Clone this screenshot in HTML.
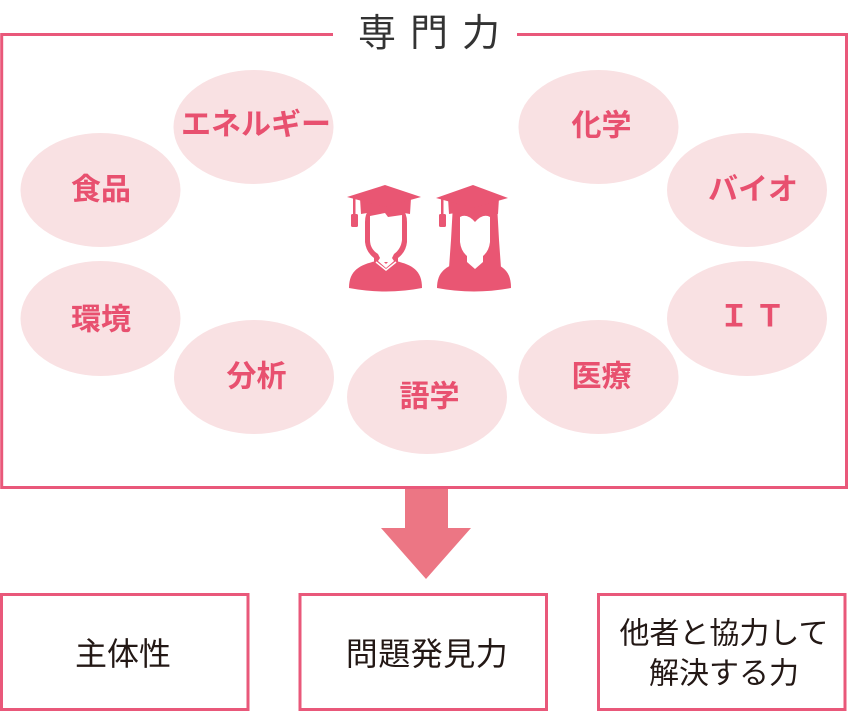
<!DOCTYPE html>
<html>
<head>
<meta charset="utf-8">
<style>
  html,body{margin:0;padding:0;background:#fff;}
  body{width:849px;height:713px;overflow:hidden;}
  svg{display:block;}
  text{font-family:"Liberation Sans","Noto Sans CJK JP",sans-serif;}
  .lbl{font-size:30px;font-weight:700;fill:#e8506f;}
  .bt{font-size:32px;font-weight:400;fill:#231815;}
  .bt3{font-size:30px;font-weight:400;fill:#231815;}
  .ttl{font-size:38px;font-weight:400;fill:#333;}
</style>
</head>
<body>
<svg width="849" height="713" viewBox="0 0 849 713" xmlns="http://www.w3.org/2000/svg">
  <!-- main frame -->
  <path d="M333,34.5 H1.7 V487.5 H846.5 V34.5 H517" fill="none" stroke="#e9587a" stroke-width="3"/>
  <text class="ttl" x="377" y="34" text-anchor="middle" dominant-baseline="central">専</text>
  <text class="ttl" x="429" y="34" text-anchor="middle" dominant-baseline="central">門</text>
  <text class="ttl" x="481" y="34" text-anchor="middle" dominant-baseline="central">力</text>

  <!-- ellipses -->
  <g fill="#f9e1e3">
    <ellipse cx="253.5" cy="127" rx="80" ry="57"/>
    <ellipse cx="598.5" cy="127" rx="80" ry="57"/>
    <ellipse cx="100.5" cy="190" rx="80" ry="57"/>
    <ellipse cx="747" cy="190" rx="80" ry="57"/>
    <ellipse cx="100.5" cy="318.5" rx="80" ry="57.5"/>
    <ellipse cx="747" cy="318.5" rx="80" ry="57.5"/>
    <ellipse cx="254" cy="377" rx="80" ry="57"/>
    <ellipse cx="598.5" cy="377" rx="80" ry="57"/>
    <ellipse cx="427" cy="397" rx="80" ry="57"/>
  </g>
  <g text-anchor="middle" dominant-baseline="central">
    <text class="lbl" x="256" y="125">エネルギー</text>
    <text class="lbl" x="601.5" y="126">化学</text>
    <text class="lbl" x="101" y="190">食品</text>
    <text class="lbl" x="753" y="190">バイオ</text>
    <text class="lbl" x="101" y="320">環境</text>
    <text class="lbl" x="734" y="317">Ｉ</text>
    <text class="lbl" x="770" y="317">Ｔ</text>
    <text class="lbl" x="256.5" y="377">分析</text>
    <text class="lbl" x="601.5" y="377">医療</text>
    <text class="lbl" x="429.5" y="397">語学</text>
  </g>

  <!-- male graduate icon -->
  <g fill="#e95673">
    <!-- body -->
    <path d="M349,288 C349,270 360,265 376,261 L396,261 C412,265 422,270 422,288 Q386,295 349,288 Z"/>
    <!-- face outline (hair) -->
    <path d="M365,222 Q365,204 386,204 Q407,204 407,222 L407,242 Q406,252 398,258 L398,263 L374,263 L374,258 Q366,252 365,242 Z"/>
    <!-- cap band -->
    <path d="M360,198 L411,198 L410,214 L386,210 L361,214 Z"/>
    <!-- cap board -->
    <path d="M347,197 L385,185 L421,197 L385,207 Z"/>
    <!-- tassel -->
    <rect x="353" y="197" width="2.5" height="19"/>
    <rect x="351" y="214" width="7" height="13" rx="1.5"/>
  </g>
  <!-- male face white -->
  <path d="M370,216 L385,213 L388,217 L402,215 L402,240 Q401,249 394,254 L392,258 L392,262 L380,262 L380,258 L378,254 Q370,249 370,240 Z" fill="#fff"/>
  <path d="M378,261 L386,268 L394,261 L392,258 L386,264 L380,258 Z" fill="#fff"/>
  <path d="M376,262 L386,270 L396,262" fill="none" stroke="#fff" stroke-width="1.5"/>

  <!-- female graduate icon -->
  <g fill="#e95673">
    <path d="M437,288 C437,272 446,266 460,262 L490,262 C504,266 511,272 511,288 Q474,295 437,288 Z"/>
    <!-- hair -->
    <path d="M453,204 L497,204 L499,240 L501,268 L449,268 L451,240 Z"/>
    <!-- cap band -->
    <path d="M448,198 L499,198 L498,214 L474,210 L449,214 Z"/>
    <path d="M436,198 L473,185 L508,198 L473,208 Z"/>
    <rect x="441" y="198" width="2.5" height="18"/>
    <rect x="439" y="214" width="7" height="13" rx="1.5"/>
  </g>
  <!-- female face white -->
  <path d="M460,217 Q467,213 475,222 Q483,213 490,217 L490,242 Q489,251 483,256 L483,262 L475,269 L467,262 L467,256 Q461,251 460,242 Z" fill="#fff"/>

  <!-- arrow -->
  <polygon points="405,489 448,489 448,528 471,528 426,579 381,528 405,528" fill="#ec7684"/>

  <!-- bottom boxes -->
  <g fill="none" stroke="#e9587a" stroke-width="3">
    <rect x="1.5" y="594.5" width="246.5" height="115"/>
    <rect x="300" y="594.5" width="246.5" height="115"/>
    <rect x="598.5" y="594.5" width="246.5" height="115"/>
  </g>
  <g text-anchor="middle" dominant-baseline="central">
    <text class="bt" x="123" y="654">主体性</text>
    <text class="bt" x="427" y="654" letter-spacing="0.5">問題発見力</text>
    <text class="bt3" x="724" y="634">他者と協力して</text>
    <text class="bt3" x="724" y="674">解決する力</text>
  </g>
</svg>
</body>
</html>
